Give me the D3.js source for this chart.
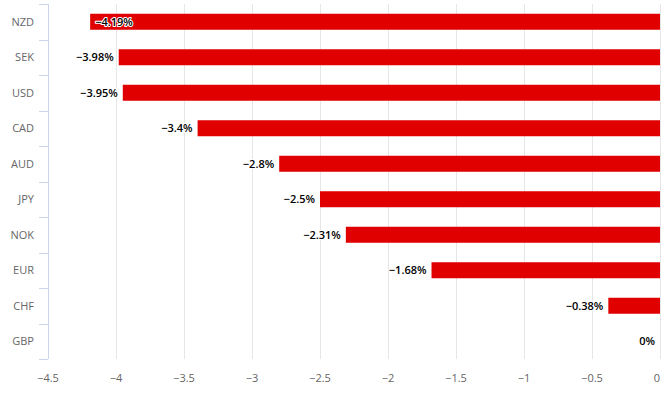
<!DOCTYPE html>
<html>
<head>
<meta charset="utf-8">
<script src="https://cdn.jsdelivr.net/npm/d3@7/dist/d3.min.js"></script>
<style>
  body { margin: 0; background: #fff; }
  svg { font-family: "Open Sans", "DejaVu Sans", sans-serif; display: block; }
</style>
</head>
<body>
<div id="chart"></div>
<script>
// currencies and their change (%)
const currencies = ["NZD", "SEK", "USD", "CAD", "AUD", "JPY", "NOK", "EUR", "CHF", "GBP"];
const changes = [-4.19, -3.98, -3.95, -3.4, -2.8, -2.5, -2.31, -1.68, -0.38, 0];
const xTicks = [-4.5, -4, -3.5, -3, -2.5, -2, -1.5, -1, -0.5, 0];

const width = 667, height = 407;
const margin = { top: 4, right: 7, bottom: 48, left: 48 };

const svg = d3.select("#chart").append("svg")
    .attr("width", width)
    .attr("height", height);

const x = d3.scaleLinear()
    .domain([-4.5, 0])
    .range([margin.left, width - margin.right]);

const y = d3.scaleBand()
    .domain(currencies)
    .range([margin.top, height - margin.bottom])
    .paddingInner(0)
    .paddingOuter(0);

const fmt = v => (v < 0 ? "\u2212" : "") + Math.abs(v) + "%";
const tickFmt = v => (v < 0 ? "\u2212" : "") + Math.abs(v);

// vertical grid lines
svg.append("g")
    .selectAll("line")
    .data(xTicks)
    .enter().append("line")
    .attr("x1", d => Math.round(x(d)) + 0.5)
    .attr("x2", d => Math.round(x(d)) + 0.5)
    .attr("y1", margin.top)
    .attr("y2", height - margin.bottom)
    .attr("stroke", "#e6e6e6")
    .attr("stroke-width", 1);

// x axis labels
svg.append("g")
    .selectAll("text")
    .data(xTicks)
    .enter().append("text")
    .attr("x", d => Math.min(x(d), width - 10))
    .attr("y", height - margin.bottom + 23)
    .attr("text-anchor", "middle")
    .attr("fill", "#666666")
    .attr("font-size", 11)
    .text(tickFmt);

// category axis line and ticks
const catAxis = svg.append("g");
catAxis.append("line")
    .attr("x1", margin.left + 0.5)
    .attr("x2", margin.left + 0.5)
    .attr("y1", margin.top)
    .attr("y2", height - margin.bottom)
    .attr("stroke", "#ccd6eb");

const tickYs = currencies.map(c => y(c)).concat([height - margin.bottom]);
catAxis.selectAll(".tick")
    .data(tickYs)
    .enter().append("line")
    .attr("x1", margin.left - 9)
    .attr("x2", margin.left)
    .attr("y1", d => Math.round(d) + 0.5)
    .attr("y2", d => Math.round(d) + 0.5)
    .attr("stroke", "#ccd6eb");

catAxis.selectAll("text")
    .data(currencies)
    .enter().append("text")
    .attr("x", margin.left - 14)
    .attr("y", d => y(d) + y.bandwidth() / 2 + 4)
    .attr("text-anchor", "end")
    .attr("fill", "#666666")
    .attr("font-size", 11)
    .text(d => d);

// bars
const barH = 16;
svg.append("g")
    .selectAll("rect")
    .data(currencies)
    .enter().append("rect")
    .attr("x", (d, i) => x(changes[i]))
    .attr("y", d => y(d) + (y.bandwidth() - barH) / 2)
    .attr("width", (d, i) => x(0) - x(changes[i]))
    .attr("height", barH)
    .attr("fill", "#e00000");

// data labels
const labels = svg.append("g")
    .selectAll("text")
    .data(currencies)
    .enter().append("text")
    .attr("y", d => y(d) + y.bandwidth() / 2 + 4)
    .attr("font-size", 11)
    .attr("font-weight", 600)
    .attr("fill", "#000")
    .attr("stroke", "#fff")
    .attr("stroke-width", 2)
    .attr("stroke-linejoin", "round")
    .attr("paint-order", "stroke")
    .text((d, i) => fmt(changes[i]));

labels.each(function (d, i) {
    const t = d3.select(this);
    const w = this.getComputedTextLength();
    const end = x(changes[i]) - 5;
    if (end - w < margin.left) {
        // not enough room: move label inside the bar
        t.attr("x", x(changes[i]) + 5).attr("text-anchor", "start");
    } else {
        t.attr("x", end).attr("text-anchor", "end");
    }
});
</script>
</body>
</html>
